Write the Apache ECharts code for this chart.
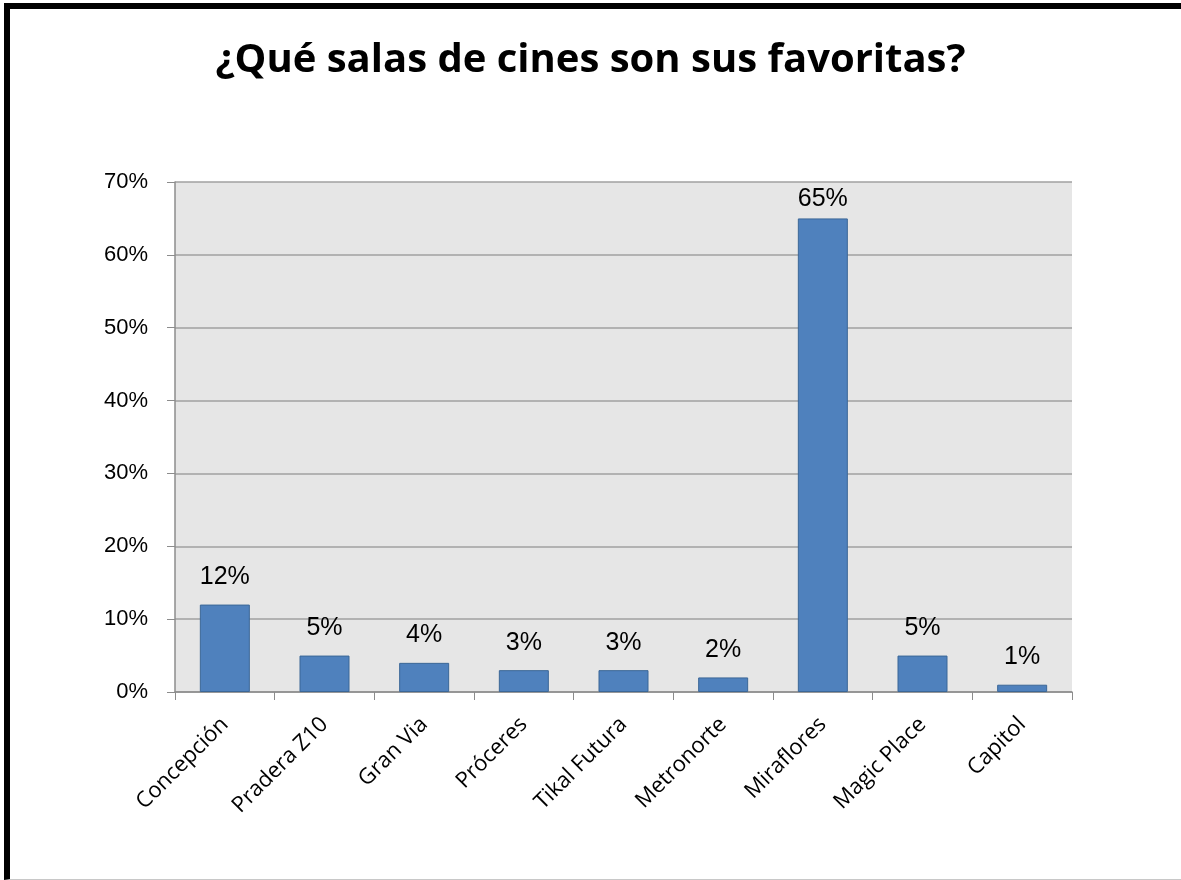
<!DOCTYPE html>
<html><head><meta charset="utf-8">
<script src="https://cdn.jsdelivr.net/npm/echarts@6/dist/echarts.min.js"></script>
<style>
html,body{margin:0;padding:0;background:#fff;overflow:hidden;}
#frame{position:absolute;left:4px;top:3px;width:1200px;height:877px;border-left:6px solid #000;border-top:6px solid #000;border-bottom:1px solid #c8c8c8;box-sizing:border-box;}
#chart{position:absolute;left:0;top:0;width:1181px;height:880px;}
</style></head>
<body>
<div id="frame"></div>
<div id="chart"></div>
<script>
const title = "¿Qué salas de cines son sus favoritas?";
const categories = ["Concepción","Pradera Z10","Gran Via","Próceres","Tikal Futura","Metronorte","Miraflores","Magic Place","Capitol"];
const values = [12, 5, 4, 3, 3, 2, 65, 5, 1];
const yTicks = [0, 10, 20, 30, 40, 50, 60, 70];

const chart = echarts.init(document.getElementById('chart'), null, {renderer:'canvas'});
chart.setOption({
  animation:false,
  title:{text:title,left:'center',top:36,textStyle:{fontFamily:'Open Sans',fontWeight:'bold',fontSize:40,color:'#000'}},
  grid:{left:175,right:109,top:182,bottom:188,show:true,backgroundColor:'#e6e6e6',borderWidth:0},
  xAxis:{type:'category',data:categories,
    axisLine:{lineStyle:{color:'#8c8c8c',width:1.5}},
    axisTick:{show:true,length:8,alignWithLabel:false,lineStyle:{color:'#8c8c8c'}},
    axisLabel:{rotate:45,fontFamily:'Open Sans',fontSize:22,color:'#000',margin:29,interval:0}},
  yAxis:{type:'value',min:yTicks[0],max:yTicks[yTicks.length-1],interval:10,
    axisLine:{show:true,lineStyle:{color:'#8c8c8c',width:1.5}},
    axisTick:{show:true,length:8,lineStyle:{color:'#8c8c8c'}},
    splitLine:{lineStyle:{color:'#a0a0a0',width:1.5}},
    axisLabel:{formatter:v=>v+'%',fontFamily:'Liberation Sans',fontSize:22,color:'#000',margin:27}},
  series:[{type:'bar',barWidth:50,
    data:values.map(v=>v===65?{value:v,label:{distance:7}}:v),
    itemStyle:{color:'#4f81bd',borderColor:'#3b6797',borderWidth:1},
    label:{show:true,position:'top',distance:15,formatter:p=>p.value+'%',fontFamily:'Liberation Sans',fontSize:25,color:'#000'}}]
});
</script>
</body></html>
